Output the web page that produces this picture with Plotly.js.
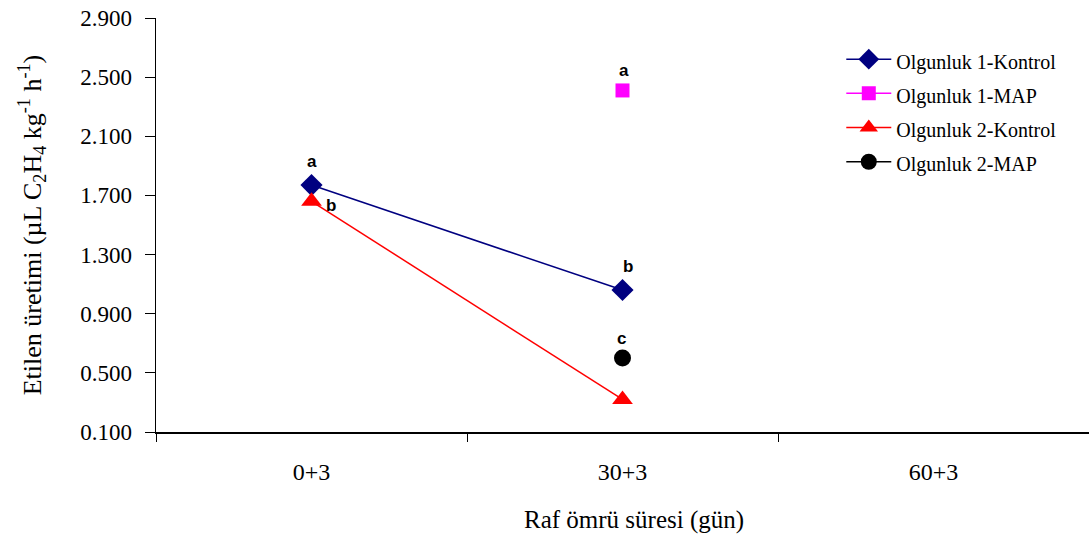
<!DOCTYPE html>
<html>
<head>
<meta charset="utf-8">
<script src="https://cdn.plot.ly/plotly-3.0.1.min.js"></script>
<style>html,body{margin:0;padding:0;background:#fff;}#chart{width:1089px;height:538px;}</style>
</head>
<body>
<div id="chart"></div>
<script>
const categories = ["0+3", "30+3", "60+3"];
const seriesNames = ["Olgunluk 1-Kontrol", "Olgunluk 1-MAP", "Olgunluk 2-Kontrol", "Olgunluk 2-MAP"];
const o1Kontrol = [1.77, 1.06, null];
const o1MAP = [null, 2.41, null];
const o2Kontrol = [1.66, 0.32, null];
const o2MAP = [null, 0.60, null];
const xTitle = "Raf ömrü süresi (gün)";
const yTitle = "Etilen üretimi (µL C<sub>2</sub>H<sub>4</sub> kg<sup>-1</sup> h<sup>-1</sup>)";
const letters = [
  {x: "0+3", y: 1.77, t: "a", dx: 0, dy: -24},
  {x: "0+3", y: 1.66, t: "b", dx: 19, dy: 4},
  {x: "30+3", y: 2.41, t: "a", dx: 1, dy: -20},
  {x: "30+3", y: 1.06, t: "b", dx: 5, dy: -24},
  {x: "30+3", y: 0.60, t: "c", dx: -1, dy: -20}
];

const serif = "'Liberation Serif', 'Times New Roman', serif";
const legendName = n => '<span style="font-size:20px">' + n + '</span>';
const traces = [
  {name: legendName(seriesNames[0]), x: categories, y: o1Kontrol, mode: "lines+markers",
   line: {color: "#000080", width: 1.5}, marker: {symbol: "diamond", size: 17, color: "#000080"}},
  {name: legendName(seriesNames[1]), x: categories, y: o1MAP, mode: "lines+markers",
   line: {color: "#ff00ff", width: 1.5}, marker: {symbol: "square", size: 14, color: "#ff00ff"}},
  {name: legendName(seriesNames[2]), x: categories, y: o2Kontrol, mode: "lines+markers",
   line: {color: "#ff0000", width: 1.5}, marker: {symbol: "triangle-up", size: 18, color: "#ff0000"}},
  {name: legendName(seriesNames[3]), x: categories, y: o2MAP, mode: "lines+markers",
   line: {color: "#000000", width: 1.5}, marker: {symbol: "circle", size: 17, color: "#000000"}}
];

const letterAnns = letters.map(l => ({x: l.x, y: l.y, text: l.t, showarrow: false, xshift: l.dx, yshift: -l.dy,
  font: {family: "'Liberation Sans', Arial, sans-serif", size: 17, color: "#000", weight: "bold"}}));
const titleAnn = {xref: "paper", yref: "paper", x: 0.5, y: -0.2126, xanchor: "center", yanchor: "middle",
  xshift: 11, text: xTitle, showarrow: false, font: {family: serif, size: 25, color: "#000"}};

const layout = {
  width: 1089, height: 538,
  margin: {l: 156, r: 0, t: 18, b: 106},
  paper_bgcolor: "#fff", plot_bgcolor: "#fff",
  font: {family: serif, size: 20, color: "#000"},
  showlegend: true,
  legend: {x: 0.7345, y: 0.954, xanchor: "left", yanchor: "top", font: {family: serif, size: 24},
           bgcolor: "rgba(0,0,0,0)", itemwidth: 45, tracegroupgap: 0},
  xaxis: {
    type: "category", categoryorder: "array", categoryarray: categories,
    range: [-0.5, 2.5], tickson: "boundaries", ticks: "outside", ticklen: 8, tickcolor: "#000",
    showline: true, linecolor: "#000", linewidth: 1.5, showgrid: false, zeroline: false,
    tickfont: {family: serif, size: 24}, ticklabelstandoff: 18
  },
  yaxis: {
    range: [0.1, 2.9], tick0: 0.1, dtick: 0.4, tickformat: ".3f",
    ticks: "outside", ticklen: 10, tickcolor: "#000",
    showline: true, linecolor: "#000", linewidth: 1.5, showgrid: false, zeroline: false,
    tickfont: {family: serif, size: 23}, ticklabelstandoff: 8,
    title: {text: yTitle, font: {family: serif, size: 26}, standoff: 31}
  },
  annotations: letterAnns.concat([titleAnn])
};

Plotly.newPlot("chart", traces, layout, {displayModeBar: false, staticPlot: true});
</script>
</body>
</html>
